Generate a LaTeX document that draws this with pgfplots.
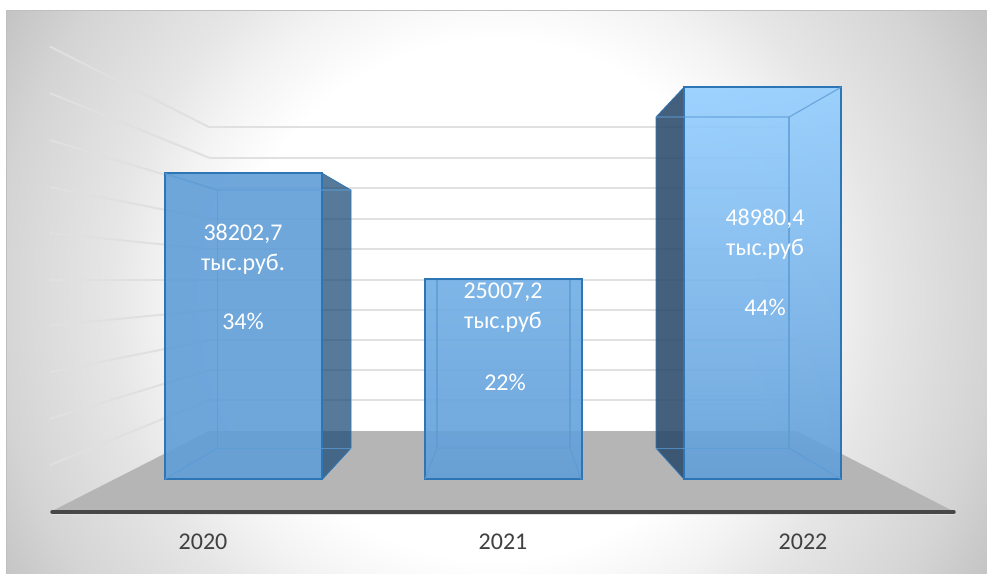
\documentclass[border=0pt]{standalone}
\usepackage{fontspec}
\setmainfont{Carlito}
\usepackage{pgfplots}
\pgfplotsset{compat=1.18}

\definecolor{bgA}{HTML}{F3F3F3}
\definecolor{bgB}{HTML}{E6E6E6}
\definecolor{bgC}{HTML}{D4D4D4}
\definecolor{bgD}{HTML}{C4C4C4}
\definecolor{floorc}{HTML}{B5B5B5}
\definecolor{gridc}{HTML}{E0E0E0}
\definecolor{barc}{HTML}{609ED8}
\definecolor{barmid}{HTML}{71AEE6}
\definecolor{bartop}{HTML}{94CEFF}
\definecolor{edgec}{HTML}{2E75B6}
\definecolor{innerc}{HTML}{5B9BD5}
\definecolor{sidec}{HTML}{1F4E79}
\definecolor{sided}{HTML}{2B4A6A}
\definecolor{labelc}{HTML}{404040}

% circular backdrop, the path's box maps onto the inner 50bp of the shading
\pgfdeclareradialshading{chartbg}{\pgfpoint{0bp}{0bp}}{%
  color(0bp)=(white);
  color(11.5bp)=(white);
  color(14.5bp)=(bgA);
  color(17bp)=(bgB);
  color(22bp)=(bgC);
  color(25bp)=(bgD);
  color(50bp)=(bgD)}

\begin{document}
\begin{tikzpicture}
\begin{axis}[
    scale only axis,
    width=987pt, height=573pt,
    xmin=0, xmax=987,
    ymin=-11750, ymax=59875,
    axis on top,
    axis line style={draw=none},
    ytick=\empty,
    xtick={203,503,803},
    xticklabels={2020,2021,2022},
    major tick length=0pt,
    x tick label style={font=\fontsize{24}{24}\selectfont, text=labelc, anchor=center, yshift=31pt},
    clip=true,
]
% backdrop
\fill[white] (axis cs:0,-11750) rectangle (axis cs:987,59875);
\begin{scope}
\clip (axis cs:6,-11750) rectangle (axis cs:987,58625);
\fill[shading=chartbg] (axis cs:-71,-48250) rectangle (axis cs:1059,93000);
\end{scope}
\draw[black!25, line width=1pt] (axis cs:6,-11750) -- (axis cs:6,58625) -- (axis cs:987,58625);

% floor
\addplot[fill=floorc, draw=none] coordinates {(50,-4125) (955,-4125) (797,6000) (209,6000)} -- cycle;

% back wall grid lines
\pgfplotsinvokeforeach{44000,40175,36375,32562,28750,24937,21125,17375,13625,9875}{
  \addplot[gridc, line width=2pt] coordinates {(209,#1) (795,#1)};
}
% side wall lines
\addplot[gridc, line width=2pt] coordinates {(50,54062) (209,44000)};
\addplot[gridc, line width=2pt] coordinates {(50,48250) (209,40175)};
\addplot[gridc, line width=2pt] coordinates {(50,42375) (209,36375)};
\addplot[gridc, line width=2pt] coordinates {(50,36500) (209,32562)};
\addplot[gridc, line width=2pt] coordinates {(50,30750) (209,28750)};
\addplot[gridc, line width=2pt] coordinates {(50,24937) (209,24937)};
\addplot[gridc, line width=2pt] coordinates {(50,19187) (209,21125)};
\addplot[gridc, line width=2pt] coordinates {(50,13375) (209,17375)};
\addplot[gridc, line width=2pt] coordinates {(50,7562) (209,13625)};
\addplot[gridc, line width=2pt] coordinates {(50,1750) (209,9875)};

% front line of the floor
\addplot[black!12, line width=2pt] coordinates {(51,-4370) (955,-4370)};
\addplot[black!72, line width=3.4pt, line cap=round] coordinates {(52,-4125) (954,-4125)};

% bar 2020: side face
\addplot[fill=sidec, fill opacity=.75, draw=edgec, line width=.8pt] coordinates {(322.5,38202.7) (351,36125) (351,3875) (322.5,0)} -- cycle;
% bar 2022: side face
\addplot[fill=sided, fill opacity=.88, draw=edgec, line width=.8pt] coordinates {(684,48980.4) (656,45250) (656,3875) (684,0)} -- cycle;

% front faces
\addplot[ybar, bar width=157pt, fill=barc, fill opacity=.9, draw=edgec, line width=2pt] coordinates {(243.5,38202.7)};
\addplot[ybar, bar width=157pt, top color=barmid, bottom color=barc, fill opacity=.9, draw=edgec, line width=2pt] coordinates {(503,25007.2)};
\addplot[ybar, bar width=157pt, top color=bartop, bottom color=barc, fill opacity=.9, draw=edgec, line width=2pt] coordinates {(762.5,48980.4)};

% inner edges of the boxes
\addplot[innerc, opacity=.75, line width=1.2pt] coordinates {(165,38202.7) (217.5,36125) (351,36125)};
\addplot[innerc, opacity=.75, line width=1.2pt] coordinates {(217.5,36125) (217.5,3875) (351,3875)};
\addplot[innerc, opacity=.75, line width=1.2pt] coordinates {(165,0) (217.5,3875)};
\addplot[innerc, opacity=.75, line width=1.2pt] coordinates {(425,0) (437,3875) (570,3875) (581,0)};
\addplot[innerc, opacity=.75, line width=1.2pt] coordinates {(437,24937) (437,3875)};
\addplot[innerc, opacity=.75, line width=1.2pt] coordinates {(570,24937) (570,3875)};
\addplot[innerc, opacity=.75, line width=1.2pt] coordinates {(841,48980.4) (789,45250) (656,45250)};
\addplot[innerc, opacity=.75, line width=1.2pt] coordinates {(789,45250) (789,3875) (656,3875)};
\addplot[innerc, opacity=.75, line width=1.2pt] coordinates {(841,0) (789,3875)};

% value labels
\begin{scope}[every node/.style={text=white, font=\fontsize{24}{24}\selectfont, inner sep=0pt, anchor=center}]
\node at (axis cs:243,30700) {38202,7};
\node at (axis cs:243,26900) {тыс.руб.};
\node at (axis cs:243,19750) {34\%};
\node at (axis cs:503,23400) {25007,2};
\node at (axis cs:503,19550) {тыс.руб};
\node at (axis cs:505,12125) {22\%};
\node at (axis cs:765,32500) {48980,4};
\node at (axis cs:765,28700) {тыс.руб};
\node at (axis cs:765,21500) {44\%};
\end{scope}
\end{axis}
\end{tikzpicture}
\end{document}
